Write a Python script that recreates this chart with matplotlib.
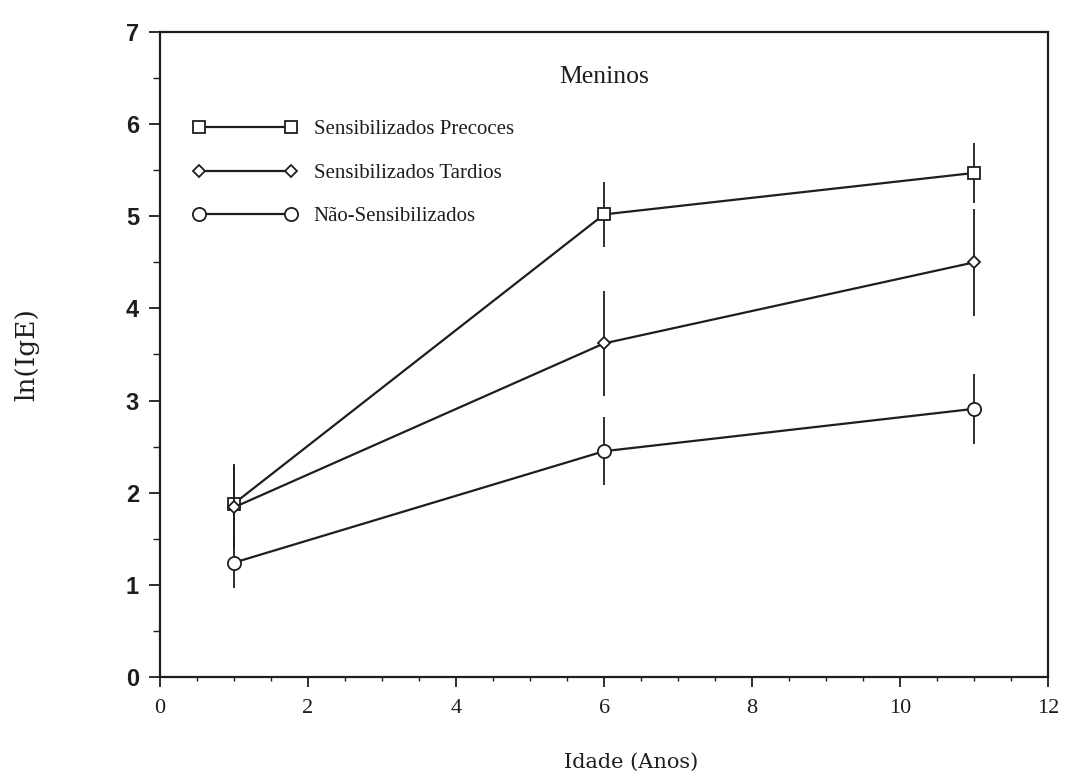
import matplotlib
matplotlib.use("Agg")
import matplotlib.pyplot as plt

# IgE (log) by age, boys
idade = [1, 6, 11]
precoces = [1.88, 5.02, 5.47]
precoces_err = [0.43, 0.35, 0.33]
tardios = [1.84, 3.62, 4.50]
tardios_err = [0.45, 0.57, 0.58]
nao_sens = [1.24, 2.45, 2.91]
nao_sens_err = [0.28, 0.37, 0.38]

labels = ["Sensibilizados Precoces", "Sensibilizados Tardios", "Não-Sensibilizados"]
series = [(precoces, precoces_err, "s", 9), (tardios, tardios_err, "D", 6.5),
          (nao_sens, nao_sens_err, "o", 9.5)]

ink = "#1e1e1e"
serif = ["Liberation Serif", "DejaVu Serif"]
wide_serif = ["DejaVu Serif"]

fig = plt.figure(figsize=(10.72, 7.79), dpi=100)
ax = fig.add_axes([0.149, 0.131, 0.829, 0.828])

for (vals, err, mk, ms), lab in zip(series, labels):
    ax.errorbar(idade, vals, yerr=err, fmt="none", ecolor=ink, elinewidth=1.3, capsize=0)
    ax.plot(idade, vals, color=ink, lw=1.6, marker=mk, ms=ms, mfc="white",
            mec=ink, mew=1.3, label=lab)

ax.set_xlim(0, 12)
ax.set_ylim(0, 7)
ax.set_xticks(range(0, 13, 2))
ax.set_xticks([i * 0.5 for i in range(25)], minor=True)
ax.set_yticks(range(0, 8))
ax.set_yticks([i * 0.5 for i in range(15)], minor=True)
for s in ax.spines.values():
    s.set_linewidth(1.6)
    s.set_color(ink)
ax.tick_params(axis="both", which="major", width=1.3, color=ink, labelcolor=ink, direction="out")
ax.tick_params(axis="both", which="minor", width=1.0, color=ink, direction="out")
ax.tick_params(axis="x", which="major", length=7, pad=9)
ax.tick_params(axis="x", which="minor", length=3)
ax.tick_params(axis="y", which="major", length=8, pad=7)
ax.tick_params(axis="y", which="minor", length=5)
for t in ax.get_xticklabels():
    t.set_fontfamily(serif)
    t.set_fontsize(16)
for t in ax.get_yticklabels():
    t.set_fontfamily(["Liberation Sans", "DejaVu Sans"])
    t.set_fontsize(17)
    t.set_fontweight("bold")

ax.set_xlabel("Idade (Anos)", fontsize=15, family=wide_serif, color=ink)
ax.xaxis.set_label_coords(0.531, -0.118)
ax.set_ylabel("ln(IgE)", fontsize=19, family=wide_serif, color=ink, labelpad=62)

ax.text(6.0, 6.51, "Meninos", fontsize=18.5, family=serif, color=ink, ha="center", va="center")

leg = ax.legend(loc="upper left", bbox_to_anchor=(0.016, 0.893), frameon=False,
                numpoints=2, handlelength=5.0, handletextpad=0.8, labelspacing=1.15,
                prop={"family": serif, "size": 15})
for t in leg.get_texts():
    t.set_color(ink)

fig.savefig("out.png", dpi=100, facecolor="white")
